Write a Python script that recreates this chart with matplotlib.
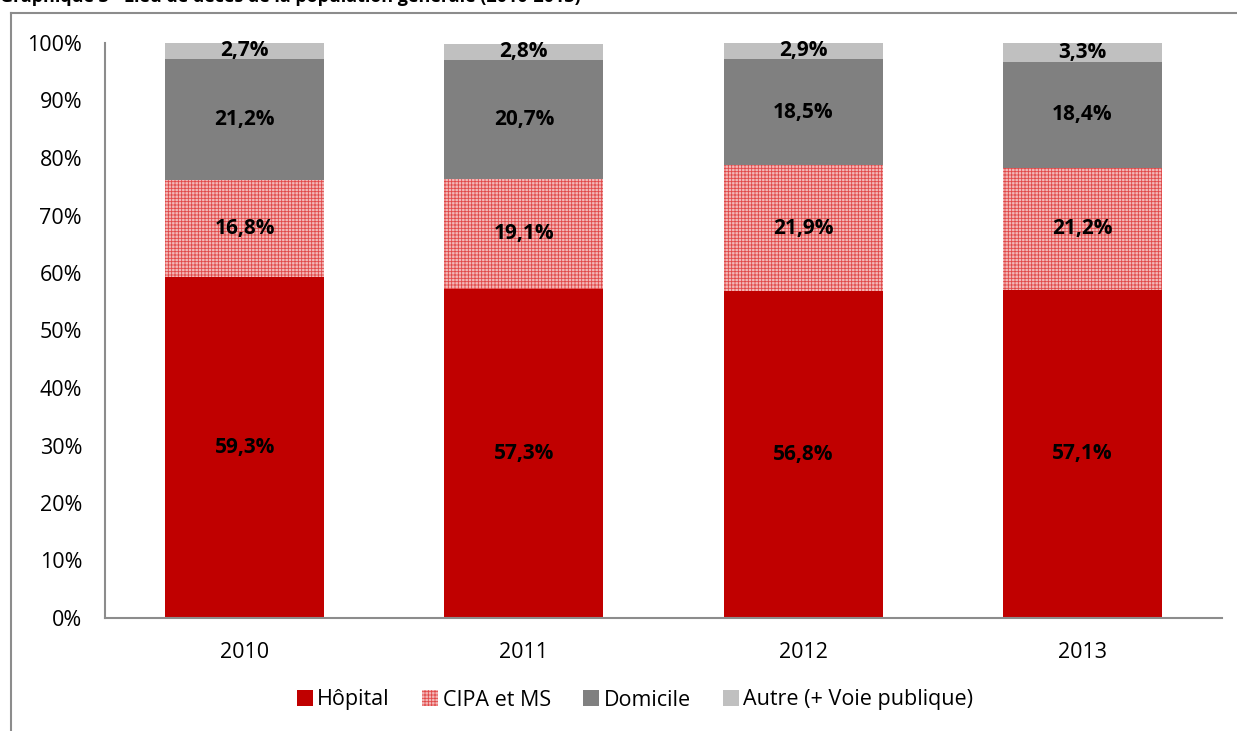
import matplotlib.pyplot as plt
from matplotlib.lines import Line2D

plt.rcParams['font.family'] = ['Open Sans', 'DejaVu Sans']
plt.rcParams['hatch.linewidth'] = 0.6

years = ['2010', '2011', '2012', '2013']
hopital = [59.3, 57.3, 56.8, 57.1]
cipa = [16.8, 19.1, 21.9, 21.2]
domicile = [21.2, 20.7, 18.5, 18.4]
autre = [2.7, 2.8, 2.9, 3.3]
series_names = ['Hôpital', 'CIPA et MS', 'Domicile', 'Autre (+ Voie publique)']
title = 'Graphique 3 - Lieu de décès de la population générale (2010-2013)'

fig = plt.figure(figsize=(12.37, 7.31), dpi=100)
ax = fig.add_axes([105 / 1237, 113 / 731, 1117 / 1237, 575 / 731])

x = list(range(len(years)))
width = 0.57
series = [hopital, cipa, domicile, autre]
styles = [
    dict(color='#c00000', linewidth=0),
    dict(facecolor='#f3b8b8', edgecolor='#e04848', hatch='+++++', linewidth=0),
    dict(color='#808080', linewidth=0),
    dict(color='#c0c0c0', linewidth=0),
]

bottom = [0.0] * len(years)
handles = []
for vals, name, st in zip(series, series_names, styles):
    bars = ax.bar(x, vals, width, bottom=bottom, label=name, **st)
    handles.append(bars)
    for xi, b, v in zip(x, bottom, vals):
        ax.text(xi, b + v / 2, f'{v:.1f}%'.replace('.', ','), ha='center', va='center',
                fontsize=15, fontweight='bold', color='black')
    bottom = [b + v for b, v in zip(bottom, vals)]

ax.set_xlim(-0.5, len(years) - 0.5)
ax.set_ylim(0, 100)
ax.set_yticks(range(0, 101, 10))
ax.set_yticklabels([f'{v}%' for v in range(0, 101, 10)])
ax.set_xticks(x)
ax.set_xticklabels(years)
ax.tick_params(axis='both', length=0, labelsize=15.5, colors='black')
ax.tick_params(axis='y', pad=16.5)
ax.tick_params(axis='x', pad=17)
for s in ['top', 'right']:
    ax.spines[s].set_visible(False)
for s in ['left', 'bottom']:
    ax.spines[s].set_color('#8c8c8c')
    ax.spines[s].set_linewidth(1.5)

fig.legend(handles=handles, loc='center', bbox_to_anchor=(635 / 1237, 31 / 731), ncol=4,
           frameon=False, fontsize=15.5, handlelength=0.75, handleheight=0.75,
           handletextpad=0.2, columnspacing=1.5)

# outer chart frame (partially cut off)
fig.add_artist(Line2D([11 / 1237, 11 / 1237], [0, 1 - 13 / 731], color='#8c8c8c', lw=1.5))
fig.add_artist(Line2D([11 / 1237, 1], [1 - 13 / 731, 1 - 13 / 731], color='#8c8c8c', lw=1.5))
fig.text(0, 1 - 2 / 731, title, ha='left', va='baseline', fontsize=13, fontweight='bold')

fig.savefig('out.png', dpi=100)
